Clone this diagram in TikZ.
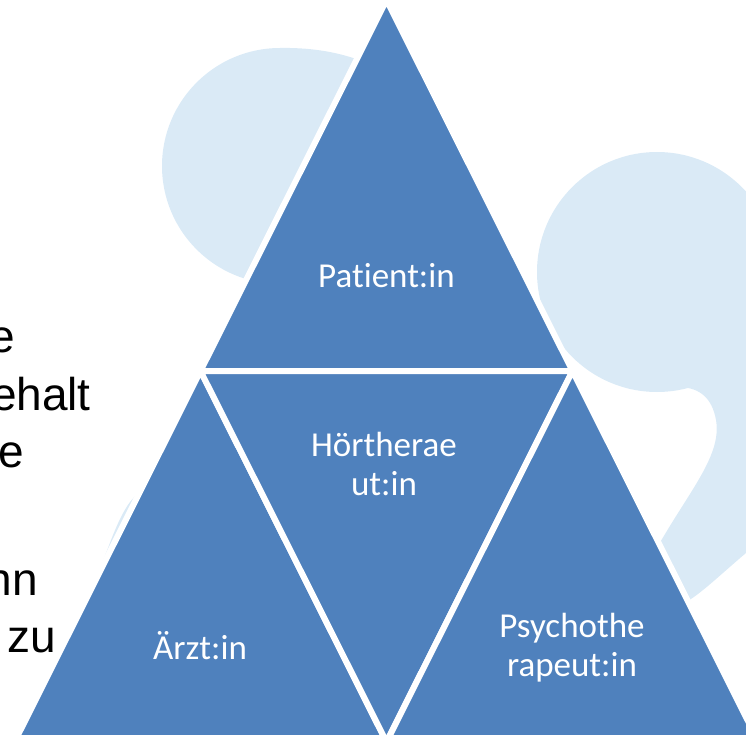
\documentclass[tikz,border=0pt]{standalone}
\usepackage{fontspec}
\setmainfont{Carlito}[Ligatures=NoCommon]
\newfontfamily\arialfont{Liberation Sans}
\definecolor{triblue}{HTML}{4F81BD}
\definecolor{blobblue}{HTML}{DAEAF6}
\newcommand\twoline[2]{\begin{tabular}[t]{@{}c@{}}#1\\#2\end{tabular}}
\begin{document}
\begin{tikzpicture}[x=1pt,y=-1pt,
  tri/.style={fill=triblue,draw=white,line width=6pt,line join=miter},
  blob/.style={fill=blobblue},
  lbl/.style={text=white,font=\fontsize{35}{39}\selectfont,inner sep=0pt,anchor=base},
  side/.style={text=black,font=\arialfont\fontsize{46}{55}\selectfont,inner sep=0pt,anchor=base east}]
\useasboundingbox (0,0) rectangle (746,735);
\clip (0,0) rectangle (746,735);
% background quotation-mark shapes
\fill[blob] (280,166) circle[radius=118];
\fill[blob] (280,48) .. controls (335,47) and (390,62) .. (430,110) -- (430,300) -- (300,470)
  .. controls (200,520) and (130,548) .. (101,565)
  .. controls (105,556) and (108,548) .. (111,540)
  .. controls (115,530) and (118,523) .. (121,517)
  .. controls (124,511) and (127,506) .. (130,502)
  -- (152,476) -- (180,440) -- (230,375) -- (285,282) -- (280,166) -- cycle;
\fill[blob] (657,272) circle[radius=120];
\fill[blob] (690,300) -- (775,300) .. controls (800,400) and (790,500) .. (746,553)
  .. controls (720,575) and (705,590) .. (688,601) -- (560,665) -- (520,660) -- (600,600) -- (658,546)
  .. controls (690,490) and (722,455) .. (716,420)
  .. controls (712,398) and (700,388) .. (680,387) -- cycle;
% pyramid
\coordinate (A) at (386.5,0);
\coordinate (ML) at (200.5,371);
\coordinate (MR) at (572.5,371);
\coordinate (BL) at (14.5,742);
\coordinate (MB) at (386.5,742);
\coordinate (BR) at (758.5,742);
\path[tri] (A) -- (ML) -- (MR) -- cycle;
\path[tri] (ML) -- (BL) -- (MB) -- cycle;
\path[tri] (ML) -- (MR) -- (MB) -- cycle;
\path[tri] (MR) -- (MB) -- (BR) -- cycle;
% labels
\node[lbl] (pat) at (386.5,287) {Patient:in};
\node[lbl] (hoer) at (384,456) {\twoline{Hörtherae}{ut:in}};
\node[lbl] (arzt) at (200,659) {Ärzt:in};
\node[lbl] (psy) at (572,637) {\twoline{Psychothe}{rapeut:in}};
% cut-off side text
\node[side] (s1) at (15,352) {e};
\node[side] (s2) at (91,410) {ehalt};
\node[side] (s3) at (24,467) {e};
\node[side] (s4) at (38,595) {nn};
\node[side] (s5) at (56,652) {zu};
\end{tikzpicture}
\end{document}
